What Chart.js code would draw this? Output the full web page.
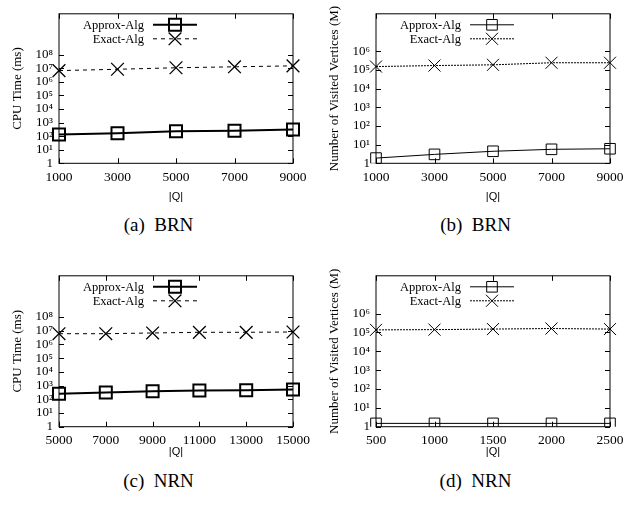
<!DOCTYPE html>
<html>
<head>
<meta charset="utf-8">
<script src="https://cdn.jsdelivr.net/npm/chart.js@4/dist/chart.umd.min.js"></script>
<style>
  body { margin: 0; background: #fff; width: 634px; height: 510px; position: relative; overflow: hidden; }
  canvas { position: absolute; }
  .cap { position: absolute; width: 317px; text-align: center; font: 19px 'Liberation Serif', 'Times New Roman', serif; color: #000; }
</style>
</head>
<body>
<canvas id="cA" width="317" height="204" style="left:0;top:0"></canvas>
<canvas id="cB" width="317" height="204" style="left:317px;top:0"></canvas>
<canvas id="cC" width="317" height="197" style="left:0;top:262px"></canvas>
<canvas id="cD" width="317" height="197" style="left:317px;top:262px"></canvas>
<div class="cap" style="left:0;top:214px">(a)&nbsp;&nbsp;BRN</div>
<div class="cap" style="left:317px;top:214px">(b)&nbsp;&nbsp;BRN</div>
<div class="cap" style="left:0;top:470px">(c)&nbsp;&nbsp;NRN</div>
<div class="cap" style="left:317px;top:470px">(d)&nbsp;&nbsp;NRN</div>
<script>
/* ---- data ---- */
const qBRN = ['1000', '3000', '5000', '7000', '9000'];
const qNRNtime = ['5000', '7000', '9000', '11000', '13000', '15000'];
const qNRNvisit = ['500', '1000', '1500', '2000', '2500'];

const timeApproxBRN = [131, 162, 224, 251, 310];
const timeExactBRN  = [6.6e6, 8.3e6, 1.07e7, 1.26e7, 1.48e7];
const visitApproxBRN = [1.9, 3.0, 4.4, 5.6, 6.0];
const visitExactBRN  = [1.5e5, 1.7e5, 1.86e5, 2.4e5, 2.4e5];

const timeApproxNRN = [253, 313, 387, 435, 455, 510];
const timeExactNRN  = [6.0e6, 6.0e6, 6.8e6, 7.6e6, 7.6e6, 8.0e6];
const visitApproxNRN = [1.5, 1.5, 1.5, 1.5, 1.5];
const visitExactNRN  = [1.36e5, 1.4e5, 1.5e5, 1.6e5, 1.5e5];

const timeTicks  = [1, 1e1, 1e2, 1e3, 1e4, 1e5, 1e6, 1e7, 1e8];
const visitTicks = [1, 1e1, 1e2, 1e3, 1e4, 1e5, 1e6];

const SERIF = "'Liberation Serif', 'Times New Roman', serif";
const SUP = '⁰¹²³⁴⁵⁶⁷⁸⁹';

function powLabel(v) {
  const e = Math.round(Math.log10(v));
  if (e === 0) return '1';
  return '10' + String(e).split('').map(d => SUP[+d]).join('');
}

/* frame + inward tics, gnuplot style */
const framePlugin = {
  id: 'frame',
  beforeDatasetsDraw(chart, args, opts) {
    const { ctx, chartArea: a, scales } = chart;
    ctx.save();
    ctx.strokeStyle = '#000';
    ctx.lineWidth = 1;
    ctx.strokeRect(a.left, a.top, a.right - a.left, a.bottom - a.top);
    ctx.beginPath();
    opts.yTicks.forEach(v => {
      const y = Math.round(scales.y.getPixelForValue(v)) + 0.5;
      ctx.moveTo(a.left, y); ctx.lineTo(a.left + 5, y);
      ctx.moveTo(a.right, y); ctx.lineTo(a.right - 5, y);
    });
    chart.data.labels.forEach((_, i) => {
      const x = Math.round(scales.x.getPixelForValue(i)) + 0.5;
      ctx.moveTo(x, a.bottom); ctx.lineTo(x, a.bottom - 5);
      ctx.moveTo(x, a.top); ctx.lineTo(x, a.top + 5);
    });
    ctx.stroke();
    ctx.restore();
  },
  afterDatasetsDraw(chart, args, opts) {
    /* key: text right-aligned, then line sample with marker */
    const { ctx, chartArea: a } = chart;
    ctx.save();
    ctx.textAlign = 'right';
    ctx.textBaseline = 'middle';
    chart.data.datasets.forEach((ds, i) => {
      const y = a.top + 11 + i * 14;
      ctx.font = '12.5px ' + SERIF;
      ctx.fillStyle = '#000';
      ctx.fillText(ds.label, a.left + 85, y + 1);
      ctx.beginPath();
      ctx.setLineDash(ds.borderDash || []);
      ctx.lineWidth = ds.borderWidth;
      ctx.strokeStyle = '#000';
      ctx.moveTo(a.left + 94, y); ctx.lineTo(a.left + 138, y);
      ctx.stroke();
      ctx.setLineDash([]);
      ctx.fillStyle = 'rgba(0,0,0,0)';
      ctx.lineWidth = ds.pointBorderWidth;
      Chart.helpers.drawPoint(ctx, {
        pointStyle: ds.pointStyle, radius: ds.pointRadius,
        borderWidth: ds.pointBorderWidth, rotation: 0,
      }, a.left + 116, y);
    });
    ctx.restore();
  }
};

function makePanel(id, cfg) {
  const bold = cfg.bold;
  new Chart(document.getElementById(id), {
    type: 'line',
    data: {
      labels: cfg.labels,
      datasets: [
        {
          label: 'Approx-Alg',
          data: cfg.approx,
          borderColor: '#000',
          borderWidth: bold ? 2 : 1,
          pointStyle: 'rect',
          pointRadius: bold ? 8.5 : 7.5,
          pointBorderWidth: bold ? 2 : 1,
          pointBorderColor: '#000',
          pointBackgroundColor: 'rgba(0,0,0,0)',
          tension: 0,
        },
        {
          label: 'Exact-Alg',
          data: cfg.exact,
          borderColor: '#000',
          borderWidth: 1,
          borderDash: bold ? [4, 4] : [2, 1],
          pointStyle: 'crossRot',
          pointRadius: bold ? 9 : 8.5,
          pointBorderWidth: bold ? 1.3 : 1,
          pointBorderColor: '#000',
          tension: 0,
        },
      ],
    },
    options: {
      responsive: false,
      animation: false,
      events: [],
      layout: { padding: { left: 0, right: 24, top: 7, bottom: 0 } },
      plugins: {
        legend: { display: false },
        tooltip: { enabled: false },
        frame: { yTicks: cfg.yTicks },
      },
      scales: {
        x: {
          type: 'category',
          offset: false,
          grid: { display: false, drawTicks: false },
          border: { display: false },
          ticks: { color: '#000', font: { family: SERIF, size: 13.5 }, padding: 6, maxRotation: 0, autoSkip: false },
          title: { display: true, text: '|Q|', color: '#000', font: { family: 'Liberation Sans', size: 11 }, padding: { top: 0, bottom: 0 } },
          afterFit: s => { s.height = cfg.xh; },
        },
        y: {
          type: 'logarithmic',
          min: 1,
          max: cfg.ymax,
          grid: { display: false, drawTicks: false },
          border: { display: false },
          afterBuildTicks: s => { s.ticks = cfg.yTicks.map(v => ({ value: v })); },
          ticks: { color: '#000', font: { family: SERIF, size: 13 }, padding: 6, callback: v => powLabel(v) },
          title: { display: true, text: cfg.ytitle, color: '#000', font: { family: SERIF, size: 13 }, padding: { top: 10, bottom: 0 } },
          afterFit: s => { s.width = 59; },
        },
      },
    },
    plugins: [framePlugin],
  });
}

makePanel('cA', { labels: qBRN, approx: timeApproxBRN, exact: timeExactBRN, ymax: 1e11, yTicks: timeTicks,
  ytitle: 'CPU Time (ms)', bold: true, xh: 40.7 });
makePanel('cB', { labels: qBRN, approx: visitApproxBRN, exact: visitExactBRN, ymax: 1e8, yTicks: visitTicks,
  ytitle: 'Number of Visited Vertices (M)', bold: false, xh: 40.7 });
makePanel('cC', { labels: qNRNtime, approx: timeApproxNRN, exact: timeExactNRN, ymax: 1e11, yTicks: timeTicks,
  ytitle: 'CPU Time (ms)', bold: true, xh: 32.3 });
makePanel('cD', { labels: qNRNvisit, approx: visitApproxNRN, exact: visitExactNRN, ymax: 1e8, yTicks: visitTicks,
  ytitle: 'Number of Visited Vertices (M)', bold: false, xh: 32.3 });
</script>
</body>
</html>
